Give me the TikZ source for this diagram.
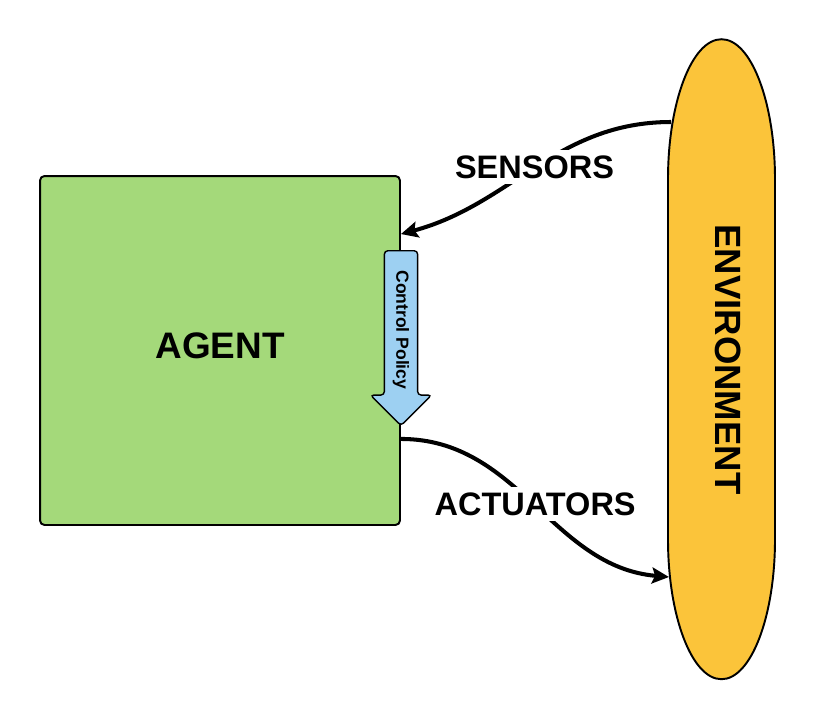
\documentclass[tikz,border=0pt]{standalone}
\usepackage{fontspec}
\setmainfont{Liberation Sans}
\usepackage{tikz}
\usetikzlibrary{shapes.geometric,shapes.arrows,arrows.meta,positioning,backgrounds,calc}
\definecolor{agentgreen}{RGB}{164,217,122}
\definecolor{envyellow}{RGB}{251,196,58}
\definecolor{policyblue}{RGB}{157,208,242}
\tikzset{
  agentbox/.style={rectangle, rounded corners=2.5pt, draw=black, line width=1.1pt, fill=agentgreen,
                   minimum width=7.2cm, minimum height=6.98cm, text depth=6pt,
                   font=\fontsize{21}{24}\selectfont\bfseries},
  envnode/.style ={rectangle, minimum width=2.14cm, minimum height=12.8cm, inner sep=0pt,
                   font=\fontsize{20.8}{24}\selectfont\bfseries},
  envshape/.style={draw=black, line width=1.1pt, fill=envyellow},
  policy/.style  ={single arrow, draw=black, line width=0.8pt, fill=policyblue, rounded corners=2pt,
                   minimum height=3.5cm, inner xsep=2pt, inner ysep=4.4pt, single arrow head extend=0.28cm,
                   font=\fontsize{10}{12}\selectfont\bfseries},
  flow/.style    ={-{Stealth[length=0.34cm,width=0.32cm,inset=0.06cm]}, line width=2.3pt},
  lbl/.style     ={font=\fontsize{18.5}{22}\selectfont\bfseries, fill=white, inner sep=3pt}
}
\begin{document}
\begin{tikzpicture}[x=0.02cm, y=0.02cm]
\useasboundingbox (0,0) rectangle (815,-720);
% ---- Agent ----
\node[agentbox] (agent) at (220,-350.5) {AGENT};
\node[policy, rotate=-90, anchor=tail] (ctrl) at (401,-250) {Control Policy};

% ---- Environment ----
\node[envnode] (env) at (721.5,-359.5) {\hspace*{0.28cm}\rotatebox{-90}{ENVIRONMENT}};
\begin{scope}[on background layer]
\draw[envshape] (env.north) arc[start angle=90, end angle=180, x radius=53.5, y radius=140]
  -- ++(0,-360) arc[start angle=180, end angle=360, x radius=53.5, y radius=140]
  -- ++(0,360) arc[start angle=0, end angle=90, x radius=53.5, y radius=140] -- cycle;
\end{scope}
\coordinate (sensfrom) at (671,-122);
\coordinate (actto) at (669,-577);

% ---- Edges ----
\draw[flow] (sensfrom) to[out=180, in=15] node[lbl]{SENSORS} ([yshift=-1.18cm]agent.north east);
\draw[flow] ([yshift=1.74cm]agent.south east) to[out=0, in=175] node[lbl]{ACTUATORS} (actto);
\end{tikzpicture}
\end{document}
